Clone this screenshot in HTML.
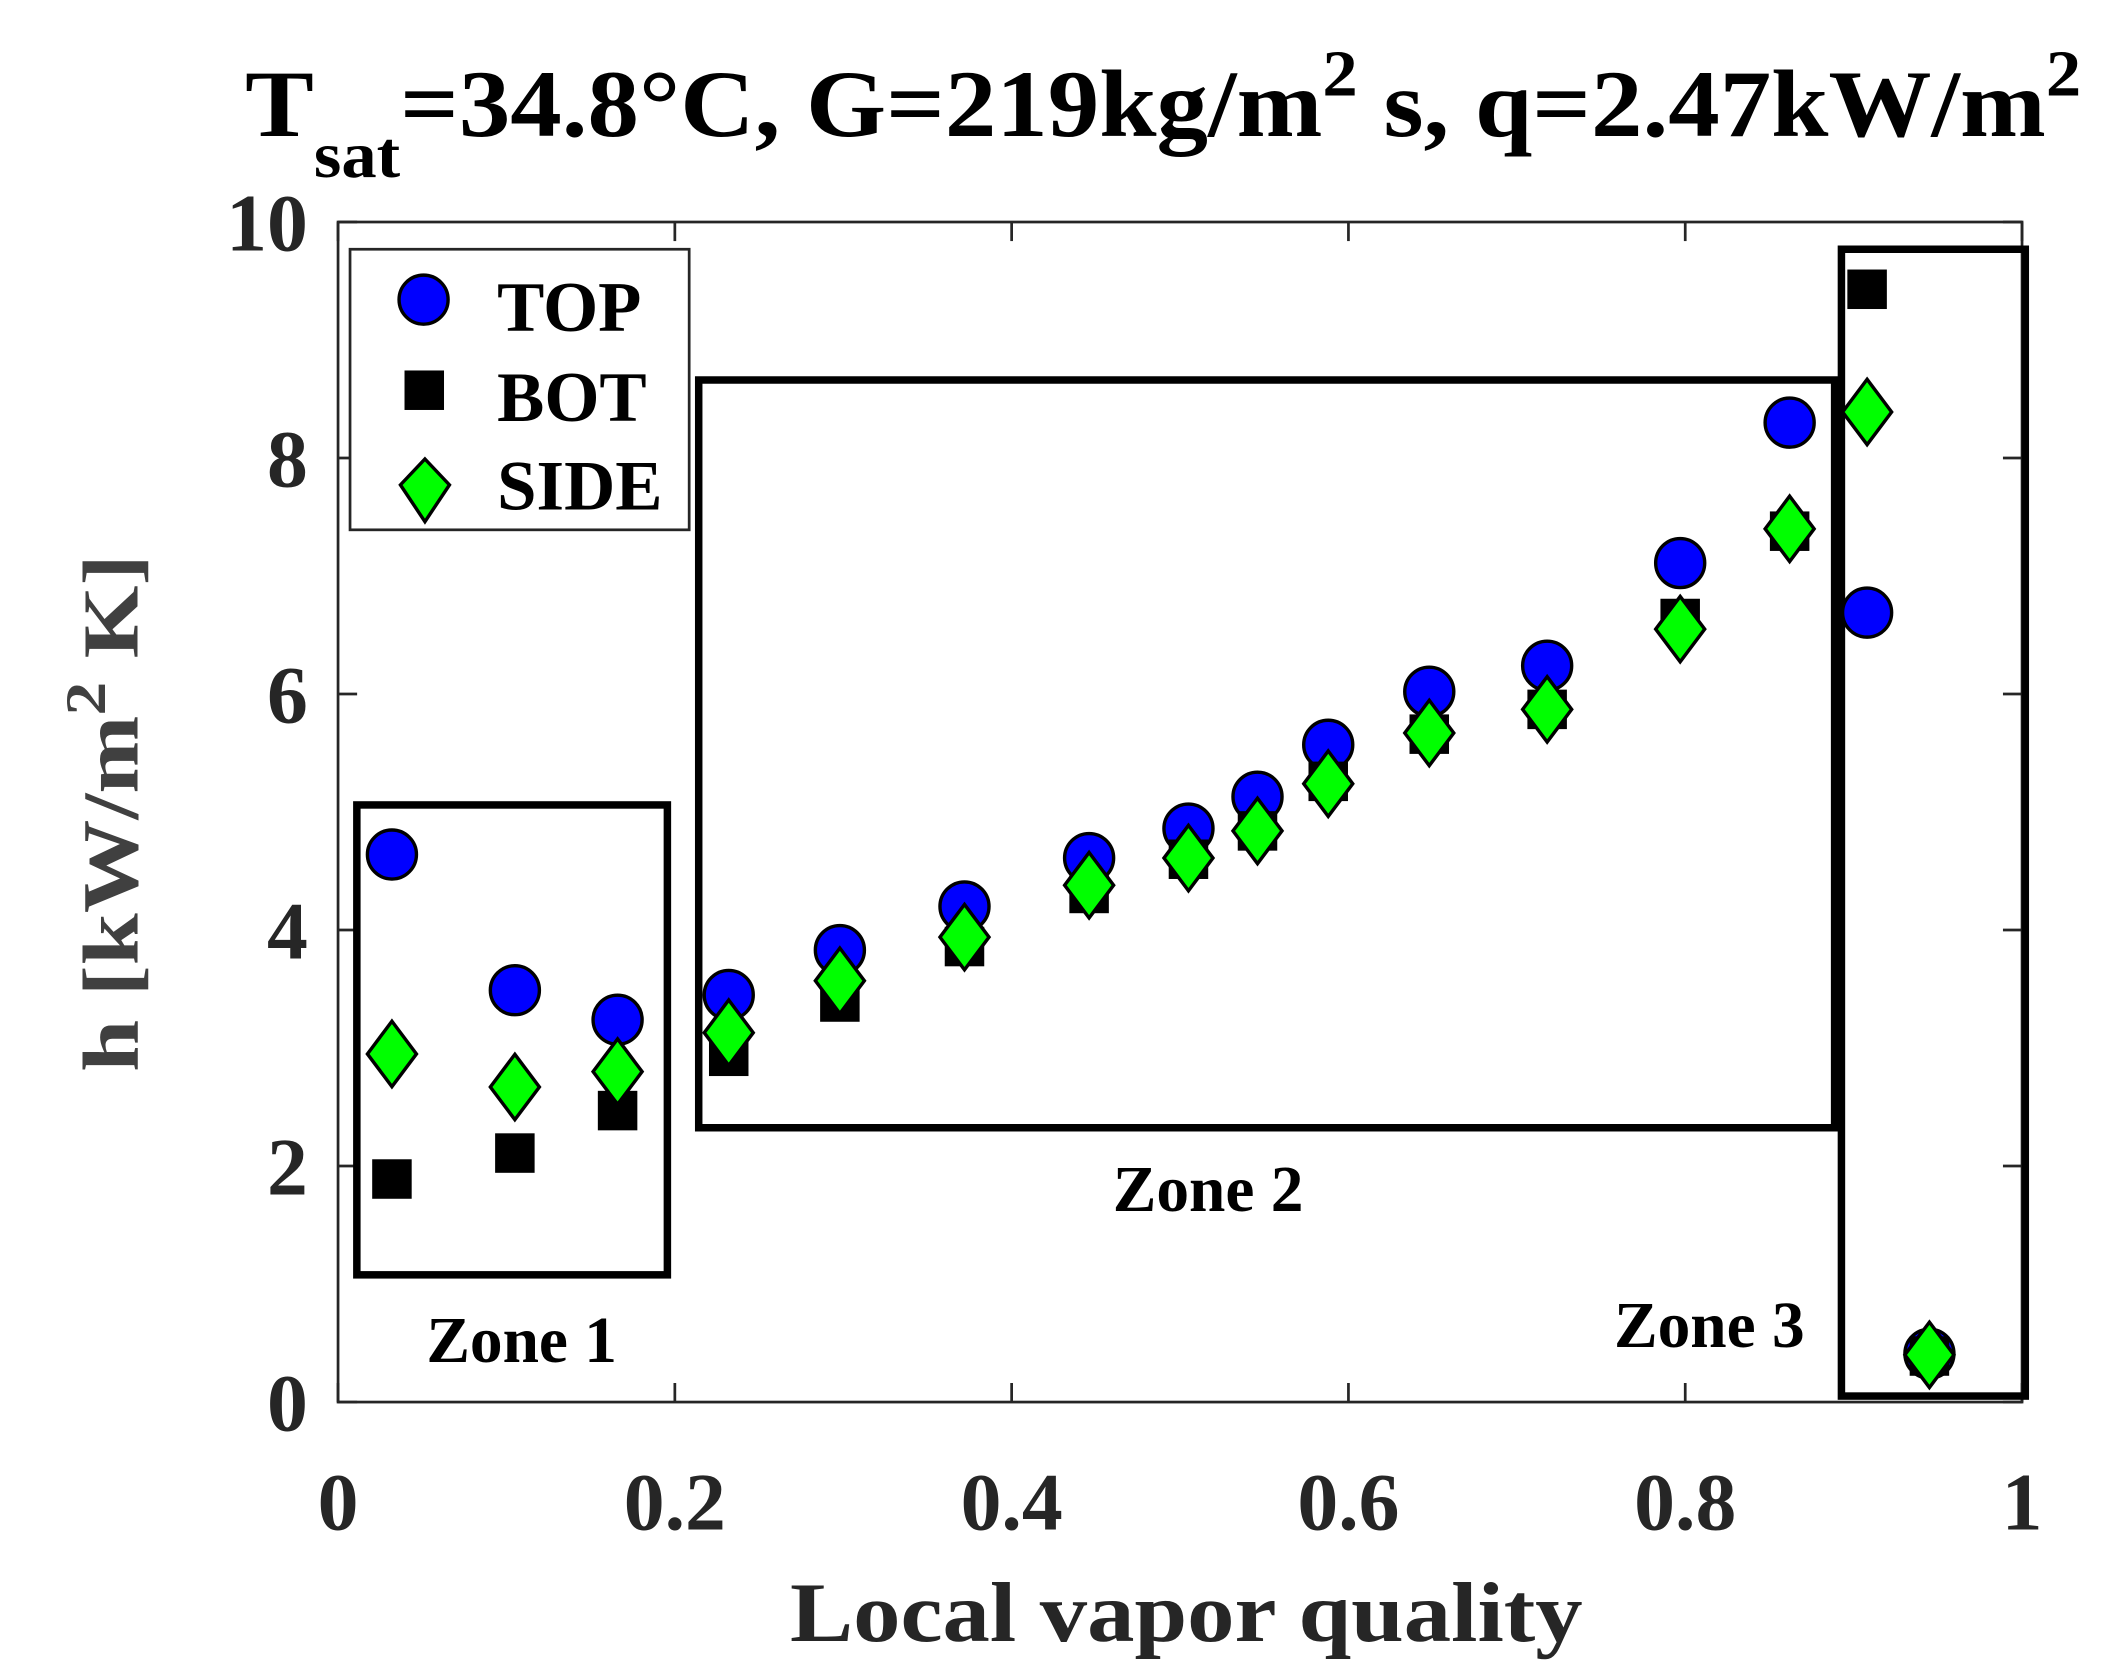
<!DOCTYPE html>
<html><head><meta charset="utf-8"><style>html,body{margin:0;padding:0;background:#fff;}svg{display:block;}</style></head>
<body>
<svg id="chart" width="2125" height="1678" viewBox="0 0 1560.2 1232" xmlns="http://www.w3.org/2000/svg" font-family="'Liberation Serif', serif" font-weight="bold">
<rect width="1560.2" height="1232" fill="#fff"/>
<text x="180" y="100" font-size="70" fill="#000" textLength="1348" lengthAdjust="spacingAndGlyphs">T<tspan font-size="48" dy="30">sat</tspan><tspan dy="-30">=34.8°C, G=219kg/m</tspan><tspan font-size="48" dy="-30">2</tspan><tspan dy="30"> s, q=2.47kW/m</tspan><tspan font-size="48" dy="-30">2</tspan></text>
<g id="axes"></g>
<g id="zones"></g>
<g id="marks"></g>
<text x="871" y="1205" font-size="62" fill="#262626" text-anchor="middle" textLength="582" lengthAdjust="spacingAndGlyphs">Local vapor quality</text>
<text transform="translate(101,597) rotate(-90)" font-size="58" fill="#404040" text-anchor="middle" textLength="380" lengthAdjust="spacingAndGlyphs">h [kW/m<tspan font-size="42" dy="-24">2</tspan><tspan dy="24"> K]</tspan></text>
<g>
<rect x="257" y="183" width="249" height="206" fill="#fff" stroke="#262626" stroke-width="2"/>
<circle cx="311" cy="220" r="18" fill="#0000ff" stroke="#000" stroke-width="2.5"/>
<rect x="297" y="272" width="29" height="29" fill="#000"/>
<polygon points="312,337 330,356 312,383 294,356" fill="#00ff00" stroke="#000" stroke-width="2.5"/>
<text x="365" y="243" font-size="52" fill="#000">TOP</text>
<text x="365" y="309" font-size="52" fill="#000">BOT</text>
<text x="365" y="374" font-size="52" fill="#000">SIDE</text>
</g>
<text x="383" y="1000" font-size="48" fill="#000" text-anchor="middle">Zone 1</text>
<text x="887" y="889" font-size="48" fill="#000" text-anchor="middle">Zone 2</text>
<text x="1255" y="989" font-size="48" fill="#000" text-anchor="middle">Zone 3</text>
</svg>
<script>
const xTicks = [0, 0.2, 0.4, 0.6, 0.8, 1];
const xTickLabels = ["0", "0.2", "0.4", "0.6", "0.8", "1"];
const yTicks = [0, 2, 4, 6, 8, 10];
const yTickLabels = ["0", "2", "4", "6", "8", "10"];
const quality = [0.032, 0.105, 0.166, 0.232, 0.298, 0.372, 0.446, 0.505, 0.546, 0.588, 0.648, 0.718, 0.797, 0.862, 0.908, 0.945];
const hTop = [4.64, 3.49, 3.24, 3.45, 3.83, 4.2, 4.61, 4.86, 5.13, 5.57, 6.02, 6.24, 7.11, 8.3, 6.69, 0.41];
const hBot = [1.89, 2.11, 2.47, 2.93, 3.39, 3.86, 4.31, 4.6, 4.84, 5.26, 5.66, 5.87, 6.64, 7.38, 9.43, 0.39];
const hSide = [2.95, 2.67, 2.8, 3.13, 3.57, 3.94, 4.38, 4.61, 4.84, 5.24, 5.67, 5.87, 6.55, 7.4, 8.39, 0.4];

const NS = "http://www.w3.org/2000/svg";
const L = 248.2, R = 1484.6, T = 163, B = 1029.4;
const xs = v => L + (R - L) * v;
const ys = v => B - (B - T) * v / 10;
function mk(tag, attrs, parent) {
  const e = document.createElementNS(NS, tag);
  for (const k in attrs) e.setAttribute(k, attrs[k]);
  parent.appendChild(e);
  return e;
}
const axes = document.getElementById('axes');
const frame = mk('rect', {x: L, y: T, width: R - L, height: B - T, fill: 'none', stroke: '#262626', 'stroke-width': 2}, axes);


xTicks.forEach((v, i) => {
  const x = xs(v);
  const t1 = mk('line', {x1: x, x2: x, y1: B, y2: B - 14, stroke: '#262626', 'stroke-width': 2}, axes);
  
  
  const t2 = mk('line', {x1: x, x2: x, y1: T, y2: T + 14, stroke: '#262626', 'stroke-width': 2}, axes);
  
  
  const lb = mk('text', {x: x, y: 1123, 'font-size': 60, fill: '#262626', 'text-anchor': 'middle'}, axes);
  
  
  lb.textContent = xTickLabels[i];
});
yTicks.forEach((v, i) => {
  const y = ys(v);
  const t1 = mk('line', {x1: L, x2: L + 14, y1: y, y2: y, stroke: '#262626', 'stroke-width': 2}, axes);
  
  
  const t2 = mk('line', {x1: R, x2: R - 14, y1: y, y2: y, stroke: '#262626', 'stroke-width': 2}, axes);
  
  
  const lb = mk('text', {x: 226, y: y + 21, 'font-size': 60, fill: '#262626', 'text-anchor': 'end'}, axes);
  
  
  lb.textContent = yTickLabels[i];
});
const zones = document.getElementById('zones');
[[262, 591, 490, 936, 'zone-1-box'], [513, 279, 1347, 828, 'zone-2-box'], [1352, 183, 1487, 1025, 'zone-3-box']].forEach(z => {
  const r = mk('rect', {x: z[0], y: z[1], width: z[2] - z[0], height: z[3] - z[1], fill: 'none', stroke: '#000', 'stroke-width': 5.5}, zones);
  
  
});
const marks = document.getElementById('marks');
quality.forEach((q, i) => {
  const x = xs(q);
  const c = mk('circle', {cx: x, cy: ys(hTop[i]), r: 18, fill: '#0000ff', stroke: '#000', 'stroke-width': 2.5}, marks);
  
  
});
quality.forEach((q, i) => {
  const x = xs(q), y = ys(hBot[i]);
  const s = mk('rect', {x: x - 14.5, y: y - 14.5, width: 29, height: 29, fill: '#000'}, marks);
  
  
});
quality.forEach((q, i) => {
  const x = xs(q), y = ys(hSide[i]);
  const d = mk('polygon', {points: `${x},${y-24} ${x+18},${y} ${x},${y+24} ${x-18},${y}`, fill: '#00ff00', stroke: '#000', 'stroke-width': 2.5}, marks);
  
  
});
</script>
</body></html>
